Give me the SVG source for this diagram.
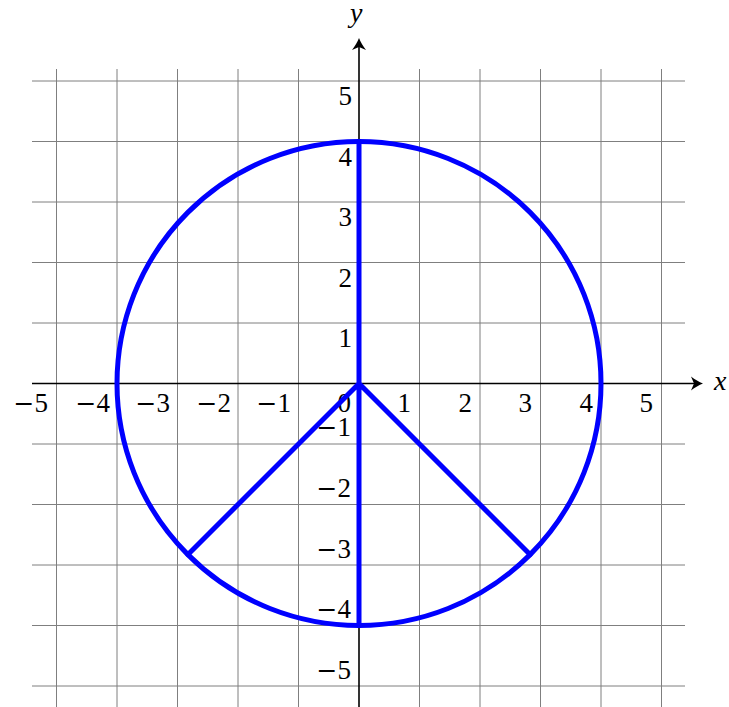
<svg xmlns="http://www.w3.org/2000/svg" width="729" height="707" viewBox="0 0 729 707">
<style>
.grid line{stroke:#7f7f7f;stroke-width:1}
.axis{stroke:#000;stroke-width:1.6;fill:none}
.blue{stroke:#0000ff;stroke-width:5;fill:none;stroke-linecap:round}
text{font-family:'Liberation Serif','Times New Roman',serif;fill:#000}
.tick text{font-size:27px}
.m{font-family:'DejaVu Serif',serif;font-size:25px}
.lab{font-style:italic;font-size:28px}
</style>
<defs>
<path id="ah" d="M0,0 C-4,-1.5 -8,-4 -12,-7 L-9,0 L-12,7 C-8,4 -4,1.5 0,0 Z" fill="#000"/>
</defs>
<rect width="729" height="707" fill="#fff"/>
<g id="grid" class="grid">
<line x1="56.5" y1="69" x2="56.5" y2="707"/>
<line x1="117" y1="69" x2="117" y2="707"/>
<line x1="177.5" y1="69" x2="177.5" y2="707"/>
<line x1="238" y1="69" x2="238" y2="707"/>
<line x1="298.5" y1="69" x2="298.5" y2="707"/>
<line x1="419.5" y1="69" x2="419.5" y2="707"/>
<line x1="480" y1="69" x2="480" y2="707"/>
<line x1="540.5" y1="69" x2="540.5" y2="707"/>
<line x1="601" y1="69" x2="601" y2="707"/>
<line x1="661.5" y1="69" x2="661.5" y2="707"/>
<line x1="32" y1="81" x2="685" y2="81"/>
<line x1="32" y1="141.5" x2="685" y2="141.5"/>
<line x1="32" y1="202" x2="685" y2="202"/>
<line x1="32" y1="262.5" x2="685" y2="262.5"/>
<line x1="32" y1="323" x2="685" y2="323"/>
<line x1="32" y1="444" x2="685" y2="444"/>
<line x1="32" y1="504.5" x2="685" y2="504.5"/>
<line x1="32" y1="565" x2="685" y2="565"/>
<line x1="32" y1="625.5" x2="685" y2="625.5"/>
<line x1="32" y1="686" x2="685" y2="686"/>
</g>
<g id="axes">
<line class="axis" x1="32" y1="383.5" x2="700" y2="383.5"/>
<line class="axis" x1="359" y1="707" x2="359" y2="41"/>
<use href="#ah" transform="translate(703,383.5)"/>
<use href="#ah" transform="translate(359,38) rotate(-90)"/>
<text class="lab" x="714" y="390">x</text>
<text class="lab" x="350" y="22">y</text>
</g>
<g id="xticks" class="tick" text-anchor="end">
<text x="48" y="412"><tspan class="m">−</tspan>5</text>
<text x="110" y="412"><tspan class="m">−</tspan>4</text>
<text x="170" y="412"><tspan class="m">−</tspan>3</text>
<text x="231" y="412"><tspan class="m">−</tspan>2</text>
<text x="291" y="412"><tspan class="m">−</tspan>1</text>
<text x="351" y="412">0</text>
<text x="411" y="412">1</text>
<text x="472" y="412">2</text>
<text x="532" y="412">3</text>
<text x="593" y="412">4</text>
<text x="653" y="412">5</text>
</g>
<g id="yticks" class="tick" text-anchor="end">
<text x="352" y="105">5</text>
<text x="352" y="165.5">4</text>
<text x="352" y="226">3</text>
<text x="352" y="286.5">2</text>
<text x="352" y="347">1</text>
<text x="351" y="436"><tspan class="m">−</tspan>1</text>
<text x="351" y="497"><tspan class="m">−</tspan>2</text>
<text x="351" y="557.5"><tspan class="m">−</tspan>3</text>
<text x="351" y="618"><tspan class="m">−</tspan>4</text>
<text x="351" y="679"><tspan class="m">−</tspan>5</text>
</g>
<g id="peace">
<circle class="blue" cx="359" cy="383.5" r="242"/>
<path class="blue" d="M359,141.5 L359,625.5 M188,554.5 L359,383.5 L530,554.5"/>
</g>
</svg>
